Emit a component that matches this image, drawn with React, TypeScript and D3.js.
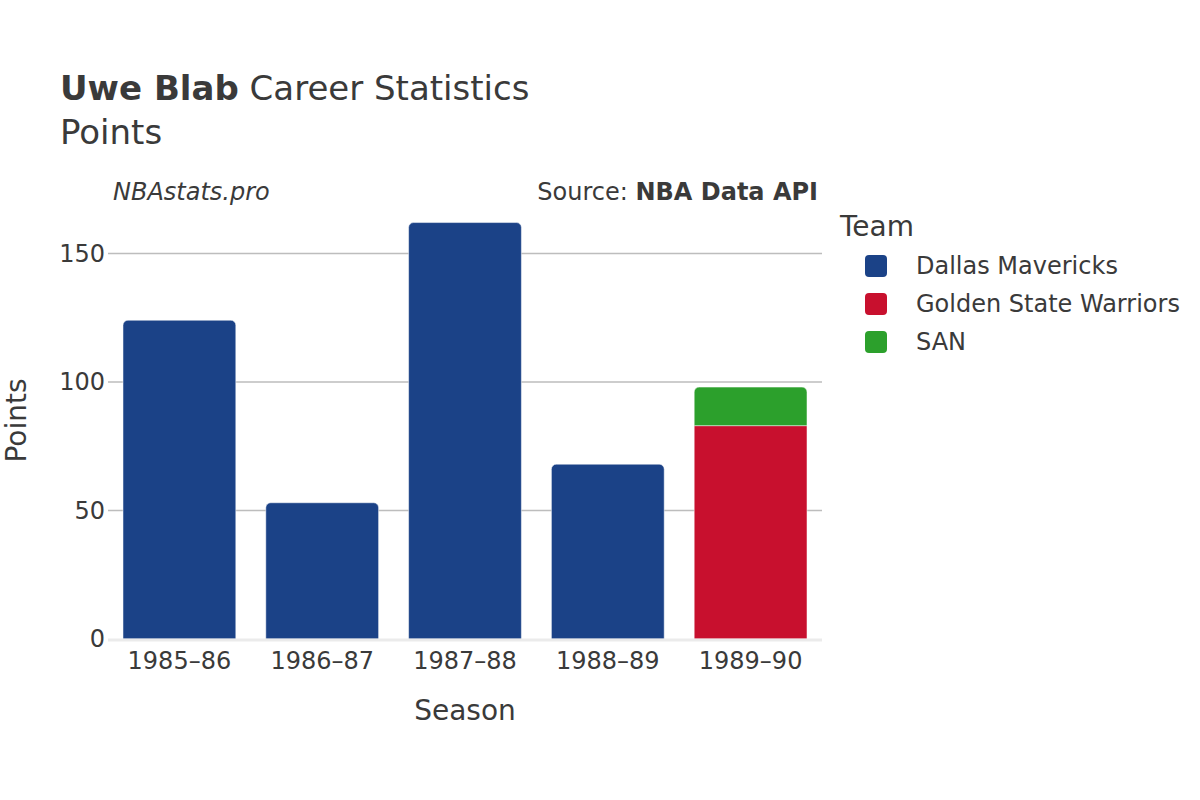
import React from 'react';
import * as d3 from 'd3';

const seasons = ['1985–86', '1986–87', '1987–88', '1988–89', '1989–90'];
const teams = ['Dallas Mavericks', 'Golden State Warriors', 'SAN'];
const teamColors = ['#1b4287', '#c8102e', '#2ca02c'];
const dallasPts = [124, 53, 162, 68, 0];
const warriorsPts = [0, 0, 0, 0, 83];
const sanPts = [0, 0, 0, 0, 15];
const yTicks = [0, 50, 100, 150];

const W = 1200;
const H = 800;
const margin = { left: 108, right: 378, top: 202, bottom: 161 };
const font = '"DejaVu Sans", sans-serif';
const textColor = '#3a3a3a';

export default function App() {
  const plotW = W - margin.left - margin.right;
  const plotH = H - margin.top - margin.bottom;

  const x = d3.scaleBand().domain(seasons).range([0, plotW]).paddingInner(0.21).paddingOuter(0.105);
  const y = d3.scaleLinear().domain([0, 170]).range([plotH, 0]);

  const rows = seasons.map((s, i) => ({
    season: s,
    'Dallas Mavericks': dallasPts[i],
    'Golden State Warriors': warriorsPts[i],
    SAN: sanPts[i],
  }));
  const stacked = d3.stack<any>().keys(teams)(rows);

  const roundTop = (x0: number, y0: number, w: number, h: number, r: number) => {
    const p = d3.path();
    p.moveTo(x0, y0 + h);
    p.lineTo(x0, y0 + r);
    p.arcTo(x0, y0, x0 + r, y0, r);
    p.lineTo(x0 + w - r, y0);
    p.arcTo(x0 + w, y0, x0 + w, y0 + r, r);
    p.lineTo(x0 + w, y0 + h);
    p.closePath();
    return p.toString();
  };

  // topmost non-empty layer per season gets rounded corners
  const topLayer = seasons.map((_, i) => {
    let t = -1;
    stacked.forEach((layer, k) => { if (layer[i][1] > layer[i][0]) t = k; });
    return t;
  });

  return (
    <svg width={W} height={H} style={{ display: 'block', position: 'absolute', left: 0, top: 0 }} fontFamily={font}>
      <rect width={W} height={H} fill="#fff" />
      <text x={60} y={100} fontSize={34} fill={textColor}>
        <tspan fontWeight="bold">Uwe Blab</tspan> Career Statistics
      </text>
      <text x={60} y={144} fontSize={34} fill={textColor}>Points</text>
      <text x={113} y={200} fontSize={24} fontStyle="italic" fill={textColor}>NBAstats.pro</text>
      <text x={818} y={200} fontSize={24} textAnchor="end" fill={textColor}>
        Source: <tspan fontWeight="bold">NBA Data API</tspan>
      </text>

      <g transform={`translate(${margin.left},${margin.top})`}>
        {yTicks.filter(t => t > 0).map(t => (
          <line key={t} x1={0} x2={plotW} y1={y(t)} y2={y(t)} stroke="#bdbdbd" strokeWidth={1.5} />
        ))}
        {yTicks.map(t => (
          <text key={t} x={-3} y={y(t)} dy="0.35em" textAnchor="end" fontSize={24} fill={textColor}>{t}</text>
        ))}
        {stacked.map((layer, k) =>
          layer.map((d, i) => {
            if (d[1] <= d[0]) return null;
            const x0 = x(seasons[i])!;
            const y0 = y(d[1]);
            const h = y(d[0]) - y(d[1]);
            const r = topLayer[i] === k ? 5 : 0;
            return (
              <path key={`${k}-${i}`} d={roundTop(x0, y0, x.bandwidth(), h, r)}
                fill={teamColors[k]} stroke="#fff" strokeOpacity={0.5} strokeWidth={1} />
            );
          })
        )}
        <line x1={0} x2={plotW} y1={plotH + 1} y2={plotH + 1} stroke="#ebebeb" strokeWidth={3} />
        {seasons.map(s => (
          <text key={s} x={x(s)! + x.bandwidth() / 2} y={plotH + 30} textAnchor="middle" fontSize={24} fill={textColor}>{s}</text>
        ))}
        <text x={plotW / 2} y={plotH + 81} textAnchor="middle" fontSize={28} fill={textColor}>Season</text>
        <text transform={`translate(${-82},${plotH / 2}) rotate(-90)`} textAnchor="middle" fontSize={28} fill={textColor}>Points</text>
      </g>

      <text x={840} y={236} fontSize={28} fill={textColor}>Team</text>
      {teams.map((t, i) => (
        <g key={t} transform={`translate(0,${266 + i * 38})`}>
          <rect x={865} y={-11} width={22} height={22} rx={4} fill={teamColors[i]} />
          <text x={916} y={0} dy="0.35em" fontSize={24} fill={textColor}>{t}</text>
        </g>
      ))}
    </svg>
  );
}
